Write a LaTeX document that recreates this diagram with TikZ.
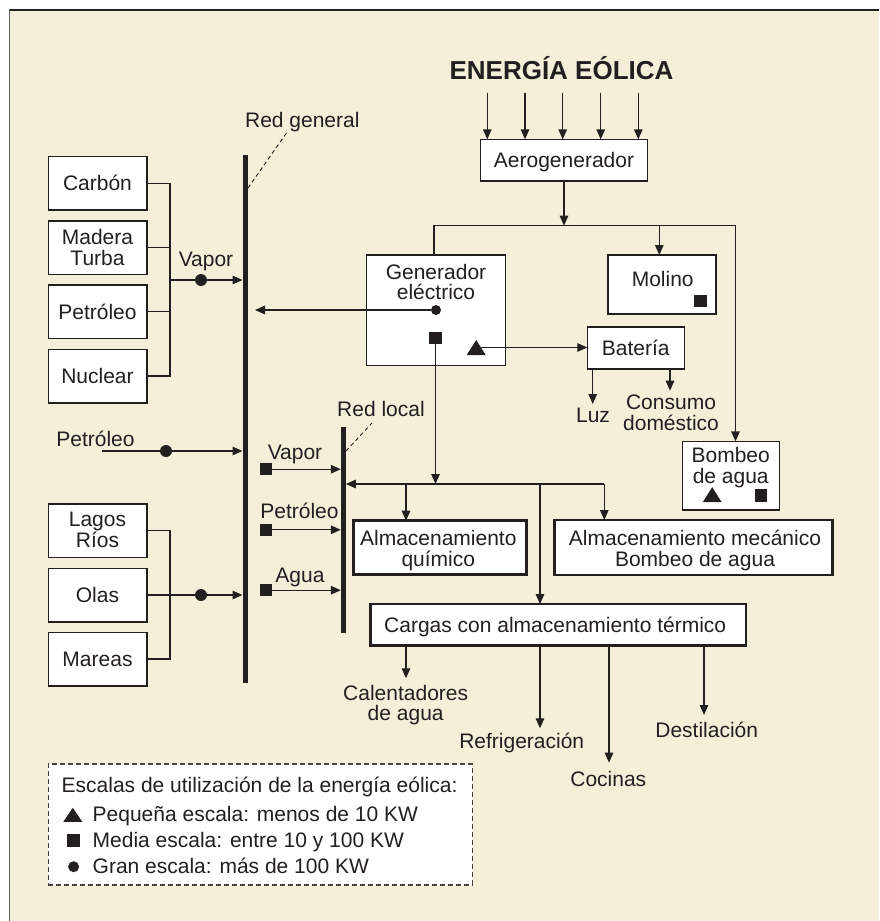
\documentclass[tikz,border=0pt]{standalone}
\usepackage{fontspec}
\setmainfont{Liberation Sans}
\usetikzlibrary{arrows.meta}
\definecolor{bg}{HTML}{F5EED8}
\definecolor{ink}{HTML}{231F20}
\newcommand\mytri[2][15]{\fill[ink] (#2) ++(-9.5,#1/2) -- ++(19,0) -- ++(-9.5,-#1) -- cycle;}
\begin{document}
\begin{tikzpicture}[x=1pt,y=-1pt,
  every node/.style={font=\fontsize{21}{21.5}\selectfont, text=ink, inner sep=0pt, outer sep=0pt},
  box/.style={draw=ink, fill=white, line width=1.5pt},
  tbox/.style={draw=ink, fill=white, line width=2.6pt},
  one/.style={text height=15pt, text depth=0pt},
  lbl/.style={anchor=base},
  ln/.style={draw=ink, line width=1.3pt},
  arr/.style={ln, -{Triangle[length=10pt,width=8.5pt]}},
  bar/.style={fill=ink, minimum width=5pt},
  dotm/.style={circle, fill=ink, minimum size=12pt},
  sqm/.style={rectangle, fill=ink, minimum size=12.5pt},
  lead/.style={draw=ink, line width=0.9pt, dash pattern=on 4pt off 3pt}
]
\useasboundingbox (0,0) rectangle (879,921);
% frame
\fill[white] (0,0) rectangle (879,921);
\fill[bg] (9,9) rectangle (879,921);
\draw[ink, line width=1.8pt] (9,9.6) -- (879,9.6);
\draw[ink!70, line width=1.2pt] (9.6,9) -- (9.6,921);

% title and wind turbine
\node[font=\bfseries\fontsize{26}{28}\selectfont, lbl] (title) at (561.5,79.3) {ENERGÍA EÓLICA};
\node[box, one, minimum width=166.6pt, minimum height=41.7pt] (aero) at (564,160.2) {Aerogenerador};
\foreach \i/\x in {1/487.3,2/525,3/562.7,4/600.7,5/638.3}{
  \coordinate (w\i) at (\x,92.7);
  \draw[arr] (w\i) -- (w\i |- aero.north);
}
\coordinate (j0) at (564,225.7);
\coordinate (jl) at (434,225.7);
\coordinate (jm) at (659.3,225.7);
\coordinate (jr) at (735.5,225.7);

% boxes right/center
\node[box, minimum width=139pt, minimum height=110.3pt] (gen) at (436.2,310.2) {};
\node[lbl] (gent1) at (436,279) {Generador};
\node[lbl] (gent2) at (436,299.5) {eléctrico};
\node[box, minimum width=108.3pt, minimum height=59pt] (molino) at (661.9,284.5) {};
\node[lbl] (molt) at (662.7,286.7) {Molino};
\node[sqm] (msq) at (700.7,300.8) {};
\node[box, one, minimum width=97pt, minimum height=42.3pt] (bat) at (635.8,347.9) {Batería};
\node[box, minimum width=97pt, minimum height=68.7pt] (bombeo) at (730.8,475.7) {};
\node[lbl] (bomt1) at (730.7,462.3) {Bombeo};
\node[lbl] (bomt2) at (730.7,483.5) {de agua};
\coordinate (btri) at (712.2,494.7);
\node[sqm] (bsq) at (760.8,495.5) {};

\node[dotm, minimum size=10pt] (gdot) at (436,310) {};
\node[sqm] (gsq) at (435.5,337.8) {};
\coordinate (gtri) at (476.2,347.5);

% connectors top
\draw[arr] (aero.south) -- (j0);
\draw[ln] (jl |- gen.north) -- (jl) -- (jr);
\draw[arr] (jm) -- (jm |- molino.north);
\draw[arr] (jr) -- (jr |- bombeo.north);
\draw[arr] (gtri) -- (gtri -| bat.west);
\mytri{gtri}
\mytri{btri}
\coordinate (l1) at (592.7,404);
\coordinate (l2) at (670,390.7);
\draw[arr] (l1 |- bat.south) -- (l1);
\draw[arr] (l2 |- bat.south) -- (l2);
\node[lbl] (luz) at (593,422.3) {Luz};
\node[lbl] (cons1) at (671,409.3) {Consumo};
\node[lbl] (cons2) at (671,430.5) {doméstico};

% bars
\node[bar, minimum height=528pt] (rg) at (245,419) {};
\node[bar, minimum height=206pt] (rl) at (343.3,530) {};
\node[lbl] (rgt) at (302.3,127.3) {Red general};
\node[lbl] (rlt) at (381,416.7) {Red local};
\coordinate (rgd) at (248,188);
\coordinate (rgl) at (286.7,132.7);
\draw[lead] (rgd) -- (rgl);
\coordinate (rld) at (346,451);
\coordinate (rll) at (372,423);
\draw[lead] (rld) -- (rll);

\draw[arr, shorten >=7.5pt] (gdot) -- (gdot -| rg.east);

% left boxes upper
\node[box, one, minimum width=98.5pt, minimum height=53.5pt] (carbon) at (97.5,183.3) {Carbón};
\node[box, minimum width=98.5pt, minimum height=53.5pt] (madera) at (97.5,247.7) {};
\node[lbl] (madt1) at (97.5,244) {Madera};
\node[lbl] (madt2) at (97.5,265) {Turba};
\node[box, one, minimum width=98.5pt, minimum height=53.5pt] (petro) at (97.5,311.7) {Petróleo};
\node[box, one, minimum width=98.5pt, minimum height=53.5pt] (nuclear) at (97.5,376) {Nuclear};
\coordinate (vx) at (170,280);
\draw[ln] (carbon.east) -| (vx |- nuclear.east) -- (nuclear.east);
\draw[ln] (madera.east) -- (vx |- madera.east);
\draw[ln] (petro.east) -- (vx |- petro.east);
\draw[arr] (vx) -- (vx -| rg.west);
\node[dotm] (vdot) at (201,280) {};
\node[lbl] (vapt) at (206,266.7) {Vapor};

% petroleo general
\node[lbl] (pgt) at (95.5,446) {Petróleo};
\coordinate (pstart) at (101.7,451);
\draw[arr] (pstart) -- (pstart -| rg.west);
\node[dotm] (pdot) at (166,451) {};

% left boxes lower
\node[box, minimum width=98.5pt, minimum height=53.5pt] (lagos) at (97.5,530.7) {};
\node[lbl] (lagt1) at (97.5,526.7) {Lagos};
\node[lbl] (lagt2) at (97.5,547.7) {Ríos};
\node[box, one, minimum width=98.5pt, minimum height=53.5pt] (olas) at (97.5,595) {Olas};
\node[box, one, minimum width=98.5pt, minimum height=53.5pt] (mareas) at (97.5,659) {Mareas};
\coordinate (vx2) at (170,595);
\draw[ln] (lagos.east) -| (vx2 |- mareas.east) -- (mareas.east);
\draw[arr] (olas.east) -- (olas.east -| rg.west);
\node[dotm] (odot) at (201,595) {};

% red local inputs
\node[sqm] (rs1) at (265.8,469.2) {};
\node[sqm] (rs2) at (265.8,529.8) {};
\node[sqm] (rs3) at (265.8,590.2) {};
\draw[arr] (rs1) -- (rs1 -| rl.west);
\draw[arr] (rs2) -- (rs2 -| rl.west);
\draw[arr] (rs3) -- (rs3 -| rl.west);
\node[lbl] (vlt) at (295,459.3) {Vapor};
\node[lbl] (plt) at (299.5,518.3) {Petróleo};
\node[lbl] (alt) at (300,582.7) {Agua};

% storage
\node[tbox, minimum width=173.4pt, minimum height=54pt] (quim) at (440,547.7) {};
\node[lbl] (qt1) at (438.3,545) {Almacenamiento};
\node[lbl] (qt2) at (438.3,566.5) {químico};
\node[tbox, minimum width=278pt, minimum height=55pt] (mec) at (693.3,547.5) {};
\node[lbl] (mt1) at (695,545) {Almacenamiento mecánico};
\node[lbl] (mt2) at (695,566.5) {Bombeo de agua};
\node[tbox, one, minimum width=375.3pt, minimum height=41.7pt] (cargas) at (558.4,624.9) {};
\node[lbl] (ct) at (555.2,632.3) {Cargas con almacenamiento térmico};

\coordinate (hl) at (604.3,484);
\coordinate (bq) at (406,484);
\coordinate (bc) at (540,484);
\draw[arr] (hl) -- (hl -| rl.east);
\draw[arr] (gsq) -- (gsq |- hl);
\draw[arr] (hl) -- (hl |- mec.north);
\draw[arr] (bq) -- (bq |- quim.north);
\draw[arr] (bc) -- (bc |- cargas.north);

% outputs
\coordinate (o1) at (406,678.3);
\coordinate (o2) at (540,728.3);
\coordinate (o3) at (609,762.7);
\coordinate (o4) at (704,715);
\foreach \o in {o1,o2,o3,o4}{\draw[arr] (\o |- cargas.south) -- (\o);}
\node[lbl] (cal1) at (405.7,700) {Calentadores};
\node[lbl] (cal2) at (405.7,720.7) {de agua};
\node[lbl] (refr) at (521.7,748.5) {Refrigeración};
\node[lbl] (coc) at (608.3,786.7) {Cocinas};
\node[lbl] (dest) at (706.7,737.7) {Destilación};

% legend
\node[draw=ink!85, fill=white, line width=1.2pt, dash pattern=on 5pt off 3pt, minimum width=424pt, minimum height=121pt] (leg) at (260.3,824.5) {};
\node[anchor=base west] (lg1) at (61.7,792.3) {Escalas de utilización de la energía eólica:};
\node[anchor=base west] (lg2) at (92.7,821.7) {Pequeña escala: menos de 10 KW};
\node[anchor=base west] (lg3) at (92.7,847.3) {Media escala: entre 10 y 100 KW};
\node[anchor=base west] (lg4) at (92.7,873.3) {Gran escala: más de 100 KW};
\coordinate (ltri) at (72.8,814.8);
\mytri[14]{ltri}
\node[sqm, minimum size=13pt] (lsq) at (73.3,840.7) {};
\node[dotm, minimum size=11pt] (ldot) at (73.6,866.7) {};
\end{tikzpicture}
\end{document}
